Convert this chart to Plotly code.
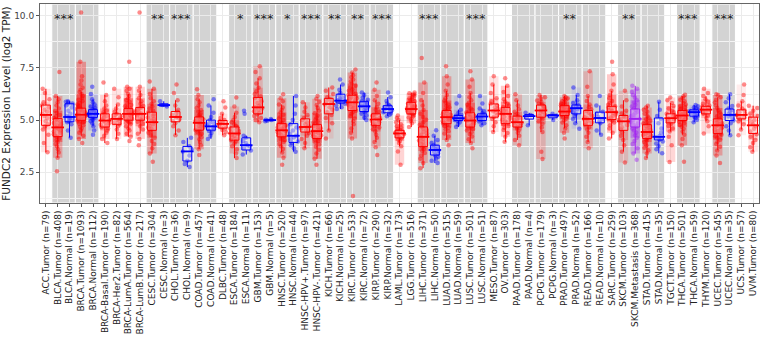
import math
import plotly.graph_objects as go

groups = ["ACC.Tumor", "BLCA.Tumor", "BLCA.Normal", "BRCA.Tumor", "BRCA.Normal",
          "BRCA-Basal.Tumor", "BRCA-Her2.Tumor", "BRCA-LumA.Tumor", "BRCA-LumB.Tumor",
          "CESC.Tumor", "CESC.Normal", "CHOL.Tumor", "CHOL.Normal", "COAD.Tumor", "COAD.Normal",
          "DLBC.Tumor", "ESCA.Tumor", "ESCA.Normal", "GBM.Tumor", "GBM.Normal",
          "HNSC.Tumor", "HNSC.Normal", "HNSC-HPV+.Tumor", "HNSC-HPV-.Tumor",
          "KICH.Tumor", "KICH.Normal", "KIRC.Tumor", "KIRC.Normal", "KIRP.Tumor", "KIRP.Normal",
          "LAML.Tumor", "LGG.Tumor", "LIHC.Tumor", "LIHC.Normal", "LUAD.Tumor", "LUAD.Normal",
          "LUSC.Tumor", "LUSC.Normal", "MESO.Tumor", "OV.Tumor", "PAAD.Tumor", "PAAD.Normal",
          "PCPG.Tumor", "PCPG.Normal", "PRAD.Tumor", "PRAD.Normal", "READ.Tumor", "READ.Normal",
          "SARC.Tumor", "SKCM.Tumor", "SKCM.Metastasis", "STAD.Tumor", "STAD.Normal",
          "TGCT.Tumor", "THCA.Tumor", "THCA.Normal", "THYM.Tumor", "UCEC.Tumor", "UCEC.Normal",
          "UCS.Tumor", "UVM.Tumor"]
counts = [79, 408, 19, 1093, 112, 190, 82, 564, 217, 304, 3, 36, 9, 457, 41, 48, 184, 11, 153, 5,
          520, 44, 97, 421, 66, 25, 533, 72, 290, 32, 173, 516, 371, 50, 515, 59, 501, 51, 87, 303,
          178, 4, 179, 3, 497, 52, 166, 10, 259, 103, 368, 415, 35, 150, 501, 59, 120, 545, 35, 57, 80]

q1 = [4.75, 4.21, 4.92, 4.99, 5.13, 4.67, 4.80, 5.00, 5.00, 4.51, 5.67, 4.92, 3.04, 4.52, 4.52,
      4.62, 4.04, 3.57, 5.30, 4.97, 4.20, 3.93, 4.43, 4.12, 5.30, 5.82, 5.46, 5.41, 4.75, 5.35,
      4.15, 5.30, 3.73, 3.33, 4.83, 4.98, 4.67, 4.98, 5.14, 4.83, 4.67, 5.05, 5.14, 5.11, 5.22,
      5.30, 4.75, 4.87, 5.03, 4.51, 4.67, 4.12, 4.05, 4.87, 4.98, 5.19, 5.30, 4.36, 4.98, 5.06, 4.36]
median = [5.25, 4.65, 5.15, 5.26, 5.30, 4.98, 5.06, 5.30, 5.30, 4.90, 5.72, 5.15, 3.50, 4.87, 4.70,
          4.82, 4.36, 3.80, 5.61, 5.00, 4.51, 4.25, 4.67, 4.47, 5.77, 5.93, 5.85, 5.66, 5.03, 5.53,
          4.36, 5.53, 4.20, 3.57, 5.14, 5.09, 4.98, 5.17, 5.46, 5.30, 4.90, 5.19, 5.46, 5.22, 5.41,
          5.57, 5.06, 5.10, 5.38, 4.94, 5.06, 4.43, 4.20, 5.09, 5.22, 5.38, 5.50, 4.75, 5.25, 5.25, 4.75]
q3 = [5.72, 5.07, 5.78, 5.57, 5.50, 5.30, 5.30, 5.55, 5.60, 5.38, 5.78, 5.41, 3.74, 5.15, 5.00,
      4.98, 4.67, 4.15, 6.08, 5.02, 4.83, 4.83, 5.06, 4.78, 6.04, 6.24, 6.19, 5.88, 5.30, 5.69,
      4.51, 5.85, 4.67, 3.80, 5.46, 5.22, 5.35, 5.30, 5.77, 5.61, 5.19, 5.27, 5.72, 5.26, 5.69,
      5.72, 5.46, 5.38, 5.66, 5.22, 5.53, 4.78, 5.10, 5.30, 5.46, 5.49, 5.66, 5.06, 5.53, 5.49, 5.14]

points = [
    [3.46, 3.9, 4.3, 4.55, 4.7, 4.8, 4.95, 5.1, 5.2, 5.3, 5.4, 5.5, 5.6, 5.7, 5.85, 6.0, 6.3, 6.5],
    [2.55, 3.2, 3.45, 3.6, 3.75, 3.85, 3.95, 4.05, 4.12, 4.2, 4.25, 4.32, 4.4, 4.45, 4.5, 4.56, 4.62, 4.66, 4.7, 4.75, 4.8, 4.86, 4.92, 4.98, 5.04, 5.1, 5.18, 5.25, 5.35, 5.45, 5.55, 5.7, 5.85, 6.0, 6.15, 7.3],
    [4.16, 4.5, 4.8, 4.9, 4.95, 5.0, 5.05, 5.1, 5.15, 5.2, 5.3, 5.45, 5.6, 5.7, 5.75, 5.8, 5.85, 5.88, 5.9],
    [3.9, 4.1, 4.25, 4.4, 4.5, 4.6, 4.68, 4.75, 4.82, 4.88, 4.93, 4.98, 5.02, 5.06, 5.1, 5.14, 5.18, 5.22, 5.25, 5.28, 5.32, 5.36, 5.4, 5.44, 5.48, 5.52, 5.56, 5.6, 5.65, 5.7, 5.76, 5.82, 5.9, 5.98, 6.06, 6.15, 6.25, 6.35, 6.45, 6.55, 6.7, 6.9, 7.1, 7.8, 10.15],
    [4.3, 4.5, 4.7, 4.85, 4.95, 5.02, 5.08, 5.12, 5.16, 5.2, 5.24, 5.28, 5.3, 5.33, 5.36, 5.4, 5.44, 5.48, 5.52, 5.58, 5.65, 5.75, 5.85, 6.0, 6.25, 6.6],
    [3.9, 4.1, 4.25, 4.4, 4.5, 4.6, 4.66, 4.72, 4.78, 4.84, 4.9, 4.95, 4.98, 5.02, 5.07, 5.12, 5.18, 5.24, 5.3, 5.38, 5.46, 5.56, 5.7, 5.9, 6.2, 6.8],
    [4.1, 4.35, 4.55, 4.7, 4.8, 4.88, 4.95, 5.02, 5.06, 5.12, 5.18, 5.24, 5.3, 5.4, 5.55, 5.75, 6.1, 6.5],
    [4.0, 4.2, 4.35, 4.5, 4.6, 4.7, 4.8, 4.88, 4.95, 5.0, 5.05, 5.1, 5.15, 5.2, 5.24, 5.28, 5.3, 5.34, 5.38, 5.42, 5.46, 5.5, 5.55, 5.6, 5.66, 5.72, 5.8, 5.88, 5.96, 6.05, 6.15, 6.25, 6.4, 6.5, 6.6, 7.8],
    [3.8, 4.1, 4.35, 4.55, 4.7, 4.82, 4.92, 5.0, 5.08, 5.15, 5.22, 5.28, 5.32, 5.36, 5.42, 5.48, 5.55, 5.6, 5.68, 5.78, 5.9, 6.05, 6.2, 6.4, 6.6, 10.15],
    [3.0, 3.4, 3.65, 3.85, 4.0, 4.15, 4.28, 4.4, 4.5, 4.58, 4.65, 4.72, 4.8, 4.86, 4.92, 4.98, 5.05, 5.12, 5.2, 5.28, 5.36, 5.45, 5.55, 5.65, 5.78, 5.9, 6.05, 6.25, 6.5, 6.85],
    [5.65, 5.72, 5.9],
    [4.28, 4.5, 4.7, 4.85, 4.95, 5.05, 5.12, 5.18, 5.25, 5.32, 5.4, 5.5, 5.7, 5.95, 6.3, 6.7],
    [2.75, 2.9, 3.05, 3.3, 3.5, 3.6, 3.75, 3.95, 4.15],
    [3.33, 3.6, 3.8, 3.95, 4.08, 4.18, 4.27, 4.35, 4.42, 4.48, 4.53, 4.58, 4.63, 4.68, 4.73, 4.78, 4.83, 4.87, 4.91, 4.95, 4.99, 5.03, 5.07, 5.11, 5.15, 5.2, 5.26, 5.32, 5.4, 5.48, 5.58, 5.7, 5.85, 6.0, 6.2, 6.48],
    [4.1, 4.25, 4.38, 4.48, 4.55, 4.6, 4.66, 4.7, 4.75, 4.82, 4.9, 5.0, 5.15, 5.35, 5.7, 6.0],
    [4.28, 4.42, 4.52, 4.6, 4.66, 4.72, 4.78, 4.82, 4.86, 4.9, 4.95, 5.0, 5.1, 5.3, 5.6, 5.9],
    [3.18, 3.4, 3.6, 3.75, 3.88, 3.98, 4.05, 4.12, 4.18, 4.24, 4.3, 4.34, 4.38, 4.42, 4.48, 4.54, 4.6, 4.66, 4.72, 4.8, 4.9, 5.0, 5.15, 5.35, 5.65, 6.08],
    [3.35, 3.55, 3.65, 3.75, 3.8, 3.9, 4.0, 4.15, 4.25, 5.3, 5.45],
    [4.9, 5.0, 5.1, 5.2, 5.28, 5.35, 5.42, 5.5, 5.56, 5.62, 5.68, 5.75, 5.82, 5.9, 5.98, 6.06, 6.14, 6.25, 6.38, 6.55, 6.75, 7.0, 7.3, 7.58],
    [4.95, 4.97, 5.0, 5.02, 5.05],
    [2.86, 3.2, 3.45, 3.62, 3.75, 3.86, 3.95, 4.03, 4.1, 4.16, 4.22, 4.27, 4.32, 4.37, 4.42, 4.47, 4.51, 4.55, 4.6, 4.65, 4.7, 4.75, 4.8, 4.86, 4.92, 5.0, 5.08, 5.16, 5.26, 5.36, 5.48, 5.6, 5.75, 5.9, 6.05, 6.24],
    [3.49, 3.65, 3.8, 3.9, 3.98, 4.08, 4.18, 4.25, 4.35, 4.5, 4.65, 4.8, 5.0, 5.3, 5.7, 6.16],
    [3.65, 3.9, 4.1, 4.25, 4.38, 4.45, 4.52, 4.6, 4.66, 4.72, 4.8, 4.9, 5.0, 5.1, 5.25, 5.4, 5.6, 5.85],
    [2.86, 3.15, 3.4, 3.58, 3.72, 3.83, 3.92, 4.0, 4.07, 4.13, 4.18, 4.23, 4.28, 4.33, 4.38, 4.43, 4.47, 4.51, 4.56, 4.61, 4.66, 4.71, 4.76, 4.82, 4.88, 4.95, 5.03, 5.12, 5.22, 5.33, 5.45, 5.58, 5.72, 5.88, 6.02, 6.16],
    [4.12, 4.5, 4.85, 5.1, 5.25, 5.38, 5.5, 5.62, 5.75, 5.82, 5.9, 6.0, 6.1, 6.25, 6.4, 6.56],
    [5.53, 5.62, 5.7, 5.78, 5.83, 5.87, 5.9, 5.93, 5.97, 6.02, 6.1, 6.2, 6.3, 6.45, 6.7, 6.95],
    [1.37, 4.12, 4.4, 4.6, 4.8, 4.95, 5.08, 5.2, 5.3, 5.38, 5.45, 5.52, 5.58, 5.64, 5.7, 5.75, 5.8, 5.85, 5.9, 5.95, 6.0, 6.05, 6.1, 6.15, 6.2, 6.26, 6.32, 6.4, 6.48, 6.56, 6.65, 6.75, 6.85, 6.95, 7.05, 7.15, 7.28, 7.42],
    [5.0, 5.12, 5.22, 5.3, 5.38, 5.44, 5.5, 5.57, 5.64, 5.68, 5.73, 5.78, 5.84, 5.9, 5.98, 6.08, 6.2, 6.32],
    [3.33, 3.7, 3.95, 4.15, 4.3, 4.45, 4.56, 4.65, 4.72, 4.78, 4.84, 4.9, 4.96, 5.01, 5.05, 5.1, 5.15, 5.2, 5.26, 5.32, 5.4, 5.5, 5.62, 5.78, 5.95, 6.15, 6.45, 6.8],
    [5.19, 5.26, 5.32, 5.37, 5.42, 5.47, 5.51, 5.55, 5.59, 5.63, 5.67, 5.72, 5.8, 5.92, 6.1, 6.32],
    [2.86, 3.5, 3.75, 3.9, 4.0, 4.07, 4.13, 4.18, 4.23, 4.28, 4.32, 4.36, 4.4, 4.44, 4.48, 4.52, 4.57, 4.63, 4.7, 4.8, 4.9, 5.0, 5.1, 5.22],
    [4.67, 4.85, 4.97, 5.06, 5.13, 5.19, 5.24, 5.29, 5.33, 5.37, 5.41, 5.45, 5.49, 5.53, 5.57, 5.61, 5.65, 5.7, 5.75, 5.8, 5.85, 5.9, 5.95, 6.0, 6.05, 6.1, 6.15, 6.2, 6.24, 6.28, 6.32, 5.55, 5.45, 5.65],
    [2.7, 2.95, 3.15, 3.3, 3.42, 3.52, 3.62, 3.7, 3.78, 3.86, 3.94, 4.02, 4.1, 4.17, 4.24, 4.3, 4.37, 4.44, 4.52, 4.6, 4.68, 4.78, 4.9, 5.02, 5.15, 5.3, 5.48, 5.7, 5.95, 6.3, 6.8, 7.97],
    [2.94, 3.05, 3.15, 3.25, 3.32, 3.4, 3.48, 3.55, 3.6, 3.66, 3.72, 3.8, 3.9, 4.05, 4.25, 4.51],
    [3.8, 4.05, 4.22, 4.36, 4.47, 4.56, 4.64, 4.71, 4.78, 4.84, 4.89, 4.94, 4.99, 5.04, 5.08, 5.12, 5.16, 5.2, 5.24, 5.28, 5.33, 5.38, 5.43, 5.48, 5.54, 5.6, 5.67, 5.75, 5.84, 5.94, 6.05, 6.2, 6.4, 6.7, 7.1, 7.58],
    [4.67, 4.8, 4.9, 4.96, 5.0, 5.04, 5.07, 5.1, 5.13, 5.17, 5.21, 5.26, 5.35, 5.5, 5.8, 6.16],
    [3.65, 3.9, 4.08, 4.22, 4.33, 4.42, 4.5, 4.57, 4.63, 4.69, 4.74, 4.79, 4.84, 4.89, 4.94, 4.98, 5.02, 5.06, 5.1, 5.15, 5.2, 5.25, 5.3, 5.36, 5.42, 5.49, 5.56, 5.64, 5.73, 5.83, 5.95, 6.1, 6.3, 6.6, 6.95, 7.34],
    [4.75, 4.85, 4.93, 4.99, 5.04, 5.09, 5.13, 5.17, 5.2, 5.24, 5.28, 5.33, 5.42, 5.55, 5.8, 6.16],
    [4.43, 4.7, 4.9, 5.05, 5.15, 5.25, 5.35, 5.42, 5.48, 5.55, 5.62, 5.7, 5.78, 5.9, 6.05, 6.3, 6.7, 7.1],
    [3.96, 4.2, 4.38, 4.52, 4.63, 4.72, 4.8, 4.88, 4.95, 5.02, 5.09, 5.16, 5.23, 5.29, 5.34, 5.39, 5.45, 5.51, 5.57, 5.63, 5.7, 5.78, 5.88, 6.0, 6.15, 6.35, 6.65, 7.0],
    [3.8, 4.05, 4.25, 4.4, 4.5, 4.58, 4.65, 4.7, 4.75, 4.8, 4.85, 4.9, 4.95, 5.0, 5.05, 5.11, 5.17, 5.23, 5.3, 5.4, 5.52, 5.7, 5.95, 6.24],
    [4.75, 5.12, 5.25, 5.35],
    [3.14, 3.49, 4.43, 4.65, 4.82, 4.95, 5.05, 5.12, 5.2, 5.27, 5.34, 5.4, 5.46, 5.52, 5.58, 5.63, 5.68, 5.74, 5.8, 5.87, 5.94, 6.02, 6.1, 6.2],
    [5.0, 5.22, 5.3],
    [4.12, 4.4, 4.6, 4.75, 4.88, 4.98, 5.06, 5.13, 5.19, 5.24, 5.28, 5.32, 5.36, 5.4, 5.43, 5.47, 5.51, 5.55, 5.59, 5.63, 5.67, 5.71, 5.75, 5.8, 5.85, 5.9, 5.95, 6.0, 6.05, 6.1, 6.16, 5.38, 5.5, 5.6],
    [4.59, 4.85, 5.05, 5.2, 5.3, 5.38, 5.45, 5.52, 5.58, 5.63, 5.68, 5.73, 5.82, 5.95, 6.2, 6.56],
    [3.65, 3.95, 4.2, 4.4, 4.55, 4.66, 4.75, 4.83, 4.9, 4.97, 5.03, 5.08, 5.14, 5.2, 5.27, 5.35, 5.43, 5.52, 5.62, 5.75, 5.92, 6.15, 6.6, 7.34],
    [4.3, 4.5, 4.85, 4.95, 5.05, 5.15, 5.3, 5.4, 5.7, 6.15],
    [4.12, 4.4, 4.6, 4.75, 4.88, 4.98, 5.06, 5.13, 5.2, 5.27, 5.33, 5.38, 5.43, 5.48, 5.54, 5.6, 5.66, 5.73, 5.82, 5.92, 6.05, 6.2, 6.4, 6.7, 7.2, 7.8],
    [2.97, 3.49, 3.8, 4.05, 4.25, 4.42, 4.55, 4.66, 4.76, 4.86, 4.94, 5.0, 5.07, 5.14, 5.22, 5.32, 5.45, 5.65, 5.95, 6.4],
    [3.1, 3.4, 3.65, 3.85, 4.0, 4.15, 4.28, 4.4, 4.5, 4.6, 4.68, 4.76, 4.84, 4.91, 4.98, 5.05, 5.12, 5.19, 5.26, 5.33, 5.4, 5.48, 5.56, 5.65, 5.74, 5.84, 5.95, 6.07, 6.2, 6.35, 6.5, 6.64],
    [3.18, 3.4, 3.56, 3.68, 3.78, 3.87, 3.95, 4.02, 4.08, 4.14, 4.19, 4.24, 4.29, 4.34, 4.39, 4.43, 4.47, 4.52, 4.57, 4.62, 4.67, 4.72, 4.78, 4.84, 4.9, 4.97, 5.04, 5.12, 5.2, 5.3, 5.4, 5.5, 5.6, 5.69],
    [3.41, 3.6, 3.75, 3.88, 3.98, 4.06, 4.12, 4.18, 4.25, 4.4, 4.6, 4.85, 5.05, 5.2, 5.5, 5.88],
    [2.99, 3.8, 4.2, 4.45, 4.6, 4.72, 4.82, 4.9, 4.97, 5.03, 5.09, 5.14, 5.19, 5.24, 5.3, 5.37, 5.45, 5.55, 5.68, 5.82, 5.95, 6.08],
    [3.0, 3.8, 4.1, 4.3, 4.45, 4.58, 4.68, 4.77, 4.85, 4.92, 4.98, 5.03, 5.08, 5.12, 5.16, 5.2, 5.23, 5.26, 5.3, 5.34, 5.38, 5.42, 5.46, 5.51, 5.56, 5.62, 5.68, 5.75, 5.82, 5.9, 5.98, 6.06, 6.14, 6.21],
    [4.9, 5.02, 5.1, 5.16, 5.2, 5.25, 5.3, 5.35, 5.39, 5.43, 5.47, 5.5, 5.55, 5.6, 5.66, 5.72],
    [4.36, 4.7, 4.95, 5.1, 5.22, 5.3, 5.36, 5.42, 5.47, 5.51, 5.55, 5.6, 5.65, 5.7, 5.78, 5.88, 6.0, 6.15, 6.3, 6.5],
    [2.94, 3.3, 3.55, 3.72, 3.85, 3.96, 4.06, 4.15, 4.23, 4.3, 4.36, 4.42, 4.48, 4.54, 4.6, 4.65, 4.7, 4.75, 4.8, 4.85, 4.9, 4.95, 5.0, 5.06, 5.12, 5.19, 5.27, 5.36, 5.46, 5.58, 5.7, 5.84, 5.98, 6.1, 6.2, 6.24],
    [4.28, 4.5, 4.7, 4.85, 4.98, 5.08, 5.17, 5.25, 5.32, 5.4, 5.48, 5.55, 5.68, 5.85, 6.05, 6.24],
    [4.28, 4.55, 4.8, 4.95, 5.05, 5.12, 5.19, 5.25, 5.31, 5.38, 5.46, 5.55, 5.7, 5.9, 6.2, 6.71],
    [3.49, 3.7, 3.9, 4.05, 4.2, 4.32, 4.45, 4.58, 4.7, 4.8, 4.9, 5.0, 5.1, 5.2, 5.32, 5.45, 5.58, 5.69],
]

shaded_left = [1, 3, 9, 11, 13, 16, 18, 20, 22, 24, 26, 28, 32, 34, 36, 40, 42, 44, 46, 49, 51, 54, 57]
sig_left = [1, 9, 11, 16, 18, 20, 22, 24, 26, 28, 32, 36, 44, 49, 54, 57]
sig_text = ["***", "**", "***", "*", "***", "*", "***", "**", "**", "***", "***", "***", "**", "**", "***", "***"]

labels = [f"{g} (n={n})" for g, n in zip(groups, counts)]


def group_color(name):
    if name.endswith("Normal"):
        return "0,0,255"
    if name.endswith("Metastasis"):
        return "160,32,240"
    return "255,0,0"


fig = go.Figure()

# two stacked translucent bands stand in for the dense point clouds (opacity grows with n)
for i, g in enumerate(groups):
    n = counts[i]
    if n < 45:
        continue
    alpha = min(0.72, 0.12 + 0.45 * math.log10(n / 45))
    s = sorted(points[i])
    k = len(s)
    rgb = group_color(g)
    for lo_q, hi_q, a in [(0.04, 0.96, alpha * 0.45), (0.18, 0.82, alpha * 0.6)]:
        lo_b = s[int(lo_q * k)]
        hi_b = s[min(k - 1, int(hi_q * k))]
        fig.add_trace(go.Box(x=[labels[i]], q1=[lo_b], median=[(lo_b + hi_b) / 2], q3=[hi_b],
                             lowerfence=[lo_b], upperfence=[hi_b], boxpoints=False, width=0.8,
                             line=dict(width=0), fillcolor=f"rgba({rgb},{a:.2f})", hoverinfo="skip"))

for rgb in ["255,0,0", "0,0,255", "160,32,240"]:
    idx = [i for i, g in enumerate(groups) if group_color(g) == rgb]
    xs, ys = [], []
    for i in idx:
        xs += [labels[i]] * len(points[i])
        ys += points[i]
    fig.add_trace(go.Box(x=xs, y=ys, boxpoints="all", jitter=1.0, pointpos=0, width=0.8,
                         line=dict(width=0), fillcolor="rgba(0,0,0,0)",
                         marker=dict(color=f"rgba({rgb},0.45)", size=4.5), hoverinfo="skip"))
    lo, hi = [], []
    for i in idx:
        iqr = q3[i] - q1[i]
        pts = points[i]
        lo.append(min([p for p in pts if p >= q1[i] - 1.5 * iqr] + [q1[i]]))
        hi.append(max([p for p in pts if p <= q3[i] + 1.5 * iqr] + [q3[i]]))
    fig.add_trace(go.Box(x=[labels[i] for i in idx], q1=[q1[i] for i in idx],
                         median=[median[i] for i in idx], q3=[q3[i] for i in idx],
                         lowerfence=lo, upperfence=hi, boxpoints=False, width=0.75,
                         whiskerwidth=0, line=dict(color=f"rgb({rgb})", width=1),
                         fillcolor="rgba(255,255,255,0.3)"))
    fig.add_trace(go.Scatter(x=[labels[i] for i in idx], y=[median[i] for i in idx], mode="markers",
                             marker=dict(symbol="line-ew", size=9,
                                         line=dict(color=f"rgb({rgb})", width=1.8)),
                             hoverinfo="skip"))

for L in shaded_left:
    fig.add_shape(type="rect", xref="x", yref="paper", x0=L - 0.5, x1=L + 1.5, y0=0, y1=1,
                  fillcolor="#D3D3D3", line=dict(color="white", width=1), layer="between")

for L, t in zip(sig_left, sig_text):
    fig.add_annotation(x=L + 0.5, y=9.85, xref="x", yref="y", text=t, showarrow=False,
                       font=dict(size=13, color="#222"), yanchor="middle")

fig.update_layout(
    width=763, height=338, margin=dict(l=40, r=3, t=3, b=132),
    plot_bgcolor="white", paper_bgcolor="white", showlegend=False, boxmode="overlay",
    font=dict(family="DejaVu Sans", size=9, color="#333"),
)
fig.update_xaxes(type="category", categoryorder="array", categoryarray=labels, tickangle=-90,
                 range=[-0.5, 60.5], showgrid=True, gridcolor="#EBEBEB", ticks="outside", ticklen=3,
                 tickcolor="#555", showline=True, mirror=True, linecolor="#666",
                 tickfont=dict(size=9, color="#222"))
fig.update_yaxes(range=[1.03, 10.56], tickvals=[2.5, 5.0, 7.5, 10.0],
                 ticktext=["2.5", "5.0", "7.5", "10.0"], showgrid=True, gridcolor="#EBEBEB",
                 minor=dict(tickvals=[1.25, 3.75, 6.25, 8.75], showgrid=True, gridcolor="#F4F4F4"),
                 ticks="outside", ticklen=3, tickcolor="#555", showline=True, mirror=True,
                 linecolor="#666", zeroline=False, tickfont=dict(size=9, color="#444"),
                 title=dict(text="FUNDC2 Expression Level (log2 TPM)", font=dict(size=10.5, color="#222"),
                            standoff=4))

fig.write_html("out.html")
